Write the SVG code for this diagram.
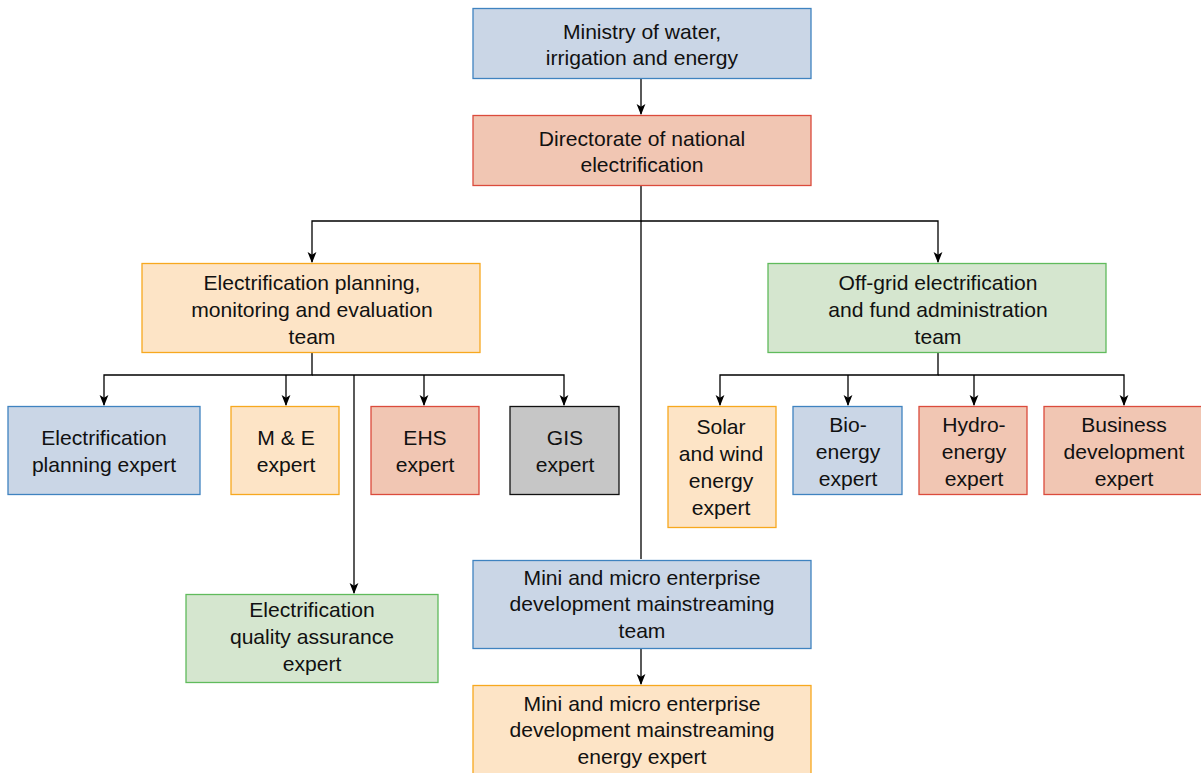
<svg xmlns="http://www.w3.org/2000/svg" width="1201" height="773" viewBox="0 0 1201 773">
  <defs>
    <marker id="arrow" viewBox="0 0 10 10" refX="9" refY="5" markerWidth="11" markerHeight="11" markerUnits="userSpaceOnUse" orient="auto">
      <path d="M0,1 L10,5 L0,9 L2.5,5 Z" fill="#000"/>
    </marker>
    <style>
      rect { stroke-width: 1.3; }
      .blue rect { fill: #cad6e6; stroke: #3f83c0; }
      .red rect { fill: #f1c6b3; stroke: #db4b3c; }
      .orange rect { fill: #fde4c6; stroke: #f7a81f; }
      .green rect { fill: #d5e6cf; stroke: #60bb5c; }
      .gray rect { fill: #c6c6c6; stroke: #111; }
      text { font-family: "Liberation Sans", Arial, Helvetica, sans-serif; font-size: 21.1px; fill: #111; text-anchor: middle; }
      .edge { fill: none; stroke: #000; stroke-width: 1.3; }
    </style>
  </defs>
  <rect width="1201" height="773" fill="#fff"/>

  <g id="connectors">
    <path class="edge" d="M641,78 V114" marker-end="url(#arrow)"/>
    <path class="edge" d="M641,185 V221 H312 V262" marker-end="url(#arrow)"/>
    <path class="edge" d="M641,221 H938 V262" marker-end="url(#arrow)"/>
    <path class="edge" d="M641,221 V559"/>
    <path class="edge" d="M312,352 V375 H104 V405" marker-end="url(#arrow)"/>
    <path class="edge" d="M286,375 V405" marker-end="url(#arrow)"/>
    <path class="edge" d="M312,375 H564 V405" marker-end="url(#arrow)"/>
    <path class="edge" d="M424,375 V405" marker-end="url(#arrow)"/>
    <path class="edge" d="M354,375 V593" marker-end="url(#arrow)"/>
    <path class="edge" d="M938,352 V375 H720 V405" marker-end="url(#arrow)"/>
    <path class="edge" d="M848,375 V405" marker-end="url(#arrow)"/>
    <path class="edge" d="M938,375 H1124 V405" marker-end="url(#arrow)"/>
    <path class="edge" d="M974,375 V405" marker-end="url(#arrow)"/>
    <path class="edge" d="M641,649 V684" marker-end="url(#arrow)"/>
  </g>

  <g id="ministry" class="blue">
    <rect x="473" y="8.5" width="338" height="70"/>
    <text x="642" y="39">Ministry of water,</text>
    <text x="642" y="65">irrigation and energy</text>
  </g>

  <g id="directorate" class="red">
    <rect x="473" y="115.5" width="338" height="70"/>
    <text x="642" y="146">Directorate of national</text>
    <text x="642" y="172">electrification</text>
  </g>

  <g id="planning-team" class="orange">
    <rect x="142" y="263.5" width="338" height="89"/>
    <text x="312" y="290">Electrification planning,</text>
    <text x="312" y="317">monitoring and evaluation</text>
    <text x="312" y="344">team</text>
  </g>

  <g id="offgrid-team" class="green">
    <rect x="768" y="263.5" width="338" height="89"/>
    <text x="938" y="290">Off-grid electrification</text>
    <text x="938" y="317">and fund administration</text>
    <text x="938" y="344">team</text>
  </g>

  <g id="planning-expert" class="blue">
    <rect x="8" y="406.5" width="192" height="88"/>
    <text x="104" y="445">Electrification</text>
    <text x="104" y="472">planning expert</text>
  </g>

  <g id="me-expert" class="orange">
    <rect x="231" y="406.5" width="108" height="88"/>
    <text x="286" y="445">M &amp; E</text>
    <text x="286" y="472">expert</text>
  </g>

  <g id="ehs-expert" class="red">
    <rect x="371" y="406.5" width="108" height="88"/>
    <text x="425" y="445">EHS</text>
    <text x="425" y="472">expert</text>
  </g>

  <g id="gis-expert" class="gray">
    <rect x="510" y="406.5" width="109" height="88"/>
    <text x="565" y="445">GIS</text>
    <text x="565" y="472">expert</text>
  </g>

  <g id="qa-expert" class="green">
    <rect x="186" y="594.5" width="252" height="88"/>
    <text x="312" y="617">Electrification</text>
    <text x="312" y="644">quality assurance</text>
    <text x="312" y="671">expert</text>
  </g>

  <g id="solar-expert" class="orange">
    <rect x="668" y="406.5" width="108" height="121"/>
    <text x="721" y="434">Solar</text>
    <text x="721" y="461">and wind</text>
    <text x="721" y="488">energy</text>
    <text x="721" y="515">expert</text>
  </g>

  <g id="bio-expert" class="blue">
    <rect x="793" y="406.5" width="109" height="88"/>
    <text x="848" y="432">Bio-</text>
    <text x="848" y="459">energy</text>
    <text x="848" y="486">expert</text>
  </g>

  <g id="hydro-expert" class="red">
    <rect x="919" y="406.5" width="108" height="88"/>
    <text x="974" y="432">Hydro-</text>
    <text x="974" y="459">energy</text>
    <text x="974" y="486">expert</text>
  </g>

  <g id="business-expert" class="red">
    <rect x="1044" y="406.5" width="162" height="88"/>
    <text x="1124" y="432">Business</text>
    <text x="1124" y="459">development</text>
    <text x="1124" y="486">expert</text>
  </g>

  <g id="enterprise-team" class="blue">
    <rect x="473" y="560.5" width="338" height="88"/>
    <text x="642" y="585">Mini and micro enterprise</text>
    <text x="642" y="611">development mainstreaming</text>
    <text x="642" y="638">team</text>
  </g>

  <g id="enterprise-expert" class="orange">
    <rect x="473" y="685.5" width="338" height="96"/>
    <text x="642" y="711">Mini and micro enterprise</text>
    <text x="642" y="737">development mainstreaming</text>
    <text x="642" y="764">energy expert</text>
  </g>
</svg>
